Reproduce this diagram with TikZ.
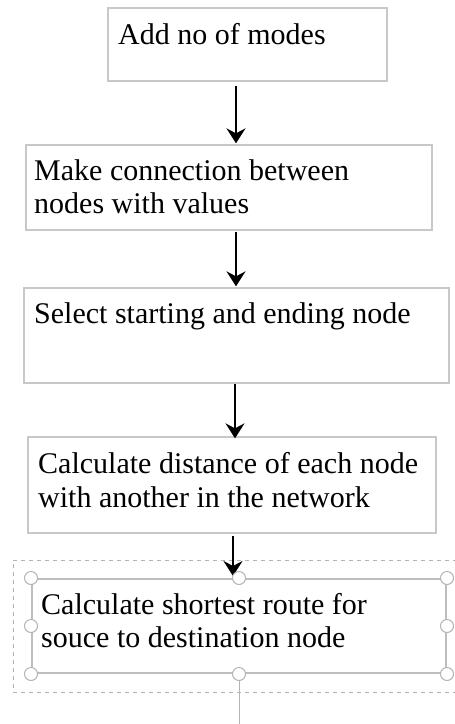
\documentclass[tikz,border=0pt]{standalone}
\usepackage{fontspec}
\setmainfont{Liberation Serif}
\usetikzlibrary{arrows.meta,calc}

\definecolor{boxline}{HTML}{C8C8C8}
\definecolor{selline}{HTML}{BEBEBE}
\definecolor{handleline}{HTML}{B4B4B4}

\tikzset{
  stepbox/.style={draw=boxline, line width=1.3pt, rectangle, inner sep=0pt},
  selbox/.style={draw=selline, line width=2pt, rectangle, inner sep=0pt},
  frame/.style={draw=handleline, line width=0.9pt, dash pattern=on 4pt off 4pt},
  handle/.style={circle, draw=handleline, fill=white, line width=1pt,
                 minimum size=13pt, inner sep=0pt},
  txt/.style={anchor=base west, inner sep=0pt, font=\fontsize{30}{33}\selectfont},
  flow/.style={draw=black, line width=1.8pt,
               -{Stealth[length=15pt, width=19pt, inset=5pt]}},
}

\begin{document}
\begin{tikzpicture}[x=1pt, y=-1pt]
  \useasboundingbox (0,0) rectangle (455,724);

  % process boxes
  \node[stepbox, minimum width=279pt, minimum height=73pt] (b1) at (247.5,44.5) {};
  \node[stepbox, minimum width=406pt, minimum height=85pt] (b2) at (229,187.5) {};
  \node[stepbox, minimum width=425pt, minimum height=95pt] (b3) at (236.5,335.5) {};
  \node[stepbox, minimum width=408pt, minimum height=96pt] (b4) at (232,485) {};

  % texts
  \node[txt] (t1)  at (118,44)  {Add no of modes};
  \node[txt] (t2a) at (34,180)  {Make connection between};
  \node[txt] (t2b) at (34,213)  {nodes with values};
  \node[txt] (t3)  at (34,323)  {Select starting and ending node};
  \node[txt] (t4a) at (38,473)  {Calculate distance of each node};
  \node[txt] (t4b) at (38,507)  {with another in the network};

  % selected last box with its dashed frame (right side runs off the page)
  \node[frame, rectangle, minimum width=452pt, minimum height=132pt, inner sep=0pt]
    (sel) at (239,626) {};
  \node[selbox, minimum width=414pt, minimum height=94pt] (b5) at (239,626) {};
  \node[txt] (t5a) at (41,614) {Calculate shortest route for};
  \node[txt] (t5b) at (41,647) {souce to destination node};

  % flow arrows
  \draw[flow] ([xshift=-11.5pt, yshift=-4pt]b1.south) -- ([xshift=7pt, yshift=1pt]b2.north);
  \draw[flow] ([xshift=7pt, yshift=-1pt]b2.south) -- ([xshift=-0.5pt, yshift=1pt]b3.north);
  \draw[flow] ([xshift=-1.5pt]b3.south) -- ([xshift=3pt, yshift=-2pt]b4.north);
  \draw[flow] ([xshift=1pt, yshift=-2pt]b4.south) -- ([xshift=-6pt, yshift=2pt]b5.north);

  % resize handles
  \foreach \p/\n in {north west/nw, north/n, north east/ne, east/e,
                     south east/se, south/s, south west/sw, west/w}
    \node[handle] (h\n) at (b5.\p) {};

  % lead line below the bottom handle
  \coordinate (tail) at ($(b5.south)+(0,56)$);
  \draw[draw=handleline, line width=1pt] (hs.south) -- (tail);
\end{tikzpicture}
\end{document}
